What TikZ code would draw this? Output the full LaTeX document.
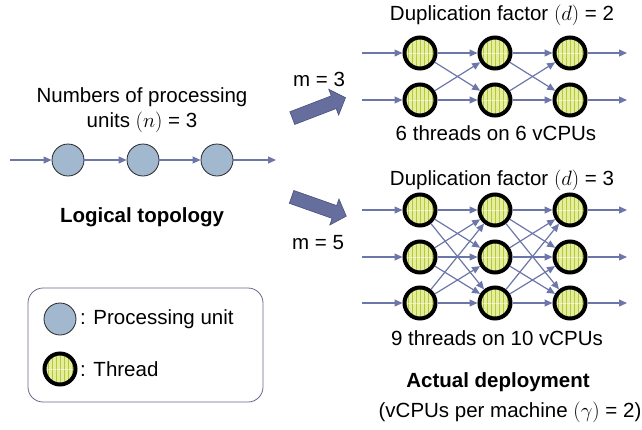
\documentclass[tikz,border=0pt]{standalone}
\usepackage{fontspec}
\setmainfont{Liberation Sans}
\usetikzlibrary{arrows.meta,shapes.arrows}
\definecolor{edgecol}{RGB}{108,118,168}
\definecolor{pufill}{RGB}{162,184,206}
\definecolor{thrlight}{RGB}{228,238,158}
\definecolor{thrstripe}{RGB}{180,200,56}
\definecolor{bigfill}{RGB}{102,110,158}
\definecolor{bigdraw}{RGB}{72,80,124}
\definecolor{boxcol}{RGB}{100,104,140}
\tikzset{
  txt/.style={font=\fontsize{20.5}{25}\selectfont, inner sep=0pt},
  btxt/.style={font=\fontsize{20.5}{25}\selectfont\bfseries, inner sep=0pt},
  pu/.style={circle, draw=black!85, line width=0.8pt, fill=pufill, minimum size=32pt, inner sep=0pt},
  thr/.style={circle, draw=black, line width=4pt, minimum size=31pt, inner sep=0pt,
    path picture={
      \fill[thrlight] (path picture bounding box.south west) rectangle (path picture bounding box.north east);
      \foreach \k in {-12,-8,...,12}
        \draw[thrstripe, line width=0.8pt] ([xshift=\k pt]path picture bounding box.north) -- ([xshift=\k pt]path picture bounding box.south);
      \draw[white, opacity=0.5, line width=0.8pt] (path picture bounding box.west) -- (path picture bounding box.east);
    }},
  edge/.style={draw=edgecol, line width=1.2pt, -{Triangle[length=8pt,width=7pt]}},
  bigarrow/.style={single arrow, fill=bigfill, draw=bigdraw, line width=0.6pt, inner sep=6.5pt,
    single arrow head extend=7pt, single arrow head indent=0pt, single arrow tip angle=95, anchor=center},
}
\begin{document}
\begin{tikzpicture}[x=1pt,y=-1pt]
\useasboundingbox (0,0) rectangle (642,429);

% ---- Logical topology ----
\node[txt, align=center] (numtxt) at (142,110) {Numbers of processing\\units $(n)$ = 3};
\coordinate (lin) at (10,160);
\node[pu] (p1) at (68,160) {};
\node[pu] (p2) at (143,160) {};
\node[pu] (p3) at (217,160) {};
\coordinate (lout) at (276,160);
\draw[edge] (lin) -- (p1);
\draw[edge] (p1) -- (p2);
\draw[edge] (p2) -- (p3);
\draw[edge] (p3) -- (lout);
\node[btxt] (logt) at (142,217) {Logical topology};

% ---- Legend ----
\node[draw=boxcol, line width=0.8pt, rounded corners=15pt, minimum width=235pt, minimum height=114pt] (legend) at (145.5,345) {};
\node[pu] (lpu) at (60,319) {};
\node[thr] (lthr) at (60,369) {};
\node[txt, anchor=west] (lputxt) at (80,319) {: Processing unit};
\node[txt, anchor=west] (lthrtxt) at (80,369) {: Thread};

% ---- Big arrows ----
\node[bigarrow, minimum height=57pt, rotate=21] (ba1) at (316,109) {};
\node[bigarrow, minimum height=58pt, rotate=-19.4] (ba2) at (316,205.5) {};
\node[txt] (m3) at (319,79) {m = 3};
\node[txt] (m5) at (318,243) {m = 5};

% ---- d = 2 ----
\node[txt] (dup2) at (502,15) {Duplication factor $(d)$ = 2};
\foreach \c/\x in {1/420,2/495,3/570}{
  \foreach \r/\y in {1/53,2/100}{
    \node[thr] (a\c\r) at (\x,\y) {};
  }
}
\foreach \r/\y in {1/53,2/100}{
  \coordinate (ain\r) at (362,\y);
  \coordinate (aout\r) at (627,\y);
  \draw[edge] (ain\r) -- (a1\r);
  \draw[edge] (a3\r) -- (aout\r);
}
\foreach \c/\n in {1/2,2/3}{
  \foreach \r in {1,2}{
    \foreach \s in {1,2}{
      \draw[edge] (a\c\r) -- (a\n\s);
    }
  }
}
\node[txt] (thr6) at (496,133) {6 threads on 6 vCPUs};

% ---- d = 3 ----
\node[txt] (dup3) at (502,180) {Duplication factor $(d)$ = 3};
\foreach \c/\x in {1/420,2/495,3/570}{
  \foreach \r/\y in {1/210,2/257,3/303}{
    \node[thr] (b\c\r) at (\x,\y) {};
  }
}
\foreach \r/\y in {1/210,2/257,3/303}{
  \coordinate (bin\r) at (362,\y);
  \coordinate (bout\r) at (627,\y);
  \draw[edge] (bin\r) -- (b1\r);
  \draw[edge] (b3\r) -- (bout\r);
}
\foreach \c/\n in {1/2,2/3}{
  \foreach \r in {1,2,3}{
    \foreach \s in {1,2,3}{
      \draw[edge] (b\c\r) -- (b\n\s);
    }
  }
}
\node[txt] (thr9) at (497,338) {9 threads on 10 vCPUs};

\node[btxt] (actual) at (498,382) {Actual deployment};
\node[txt] (gamma) at (510,412) {(vCPUs per machine $(\gamma)$ = 2)};
\end{tikzpicture}
\end{document}
